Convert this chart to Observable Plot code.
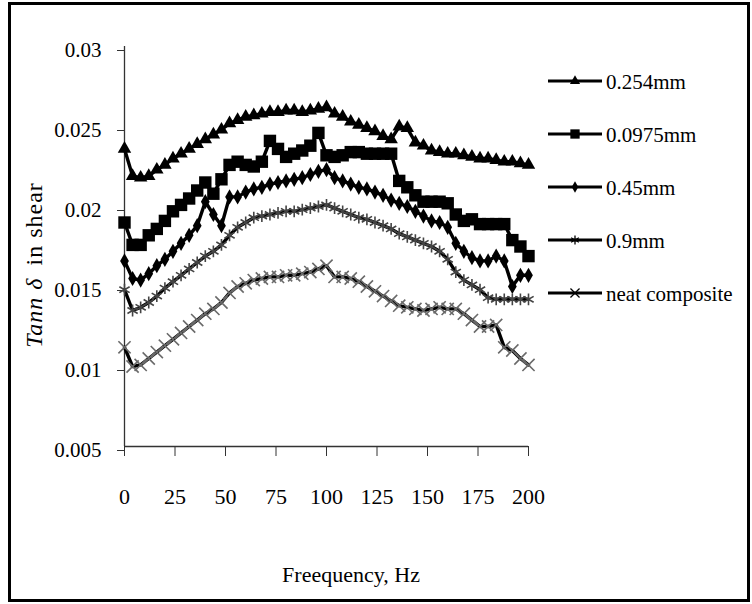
<!DOCTYPE html>
<html><head><meta charset="utf-8">
<script src="https://cdn.jsdelivr.net/npm/d3@7"></script>
<script src="https://cdn.jsdelivr.net/npm/@observablehq/plot@0.6"></script>
<style>
body{margin:0;background:#fff;}
#chart{width:752px;height:604px;}
svg text{font-family:"Liberation Serif","Tinos","DejaVu Serif",serif !important;}
</style></head><body><div id="chart"></div>
<script>
// ---- data ----
const freq = [0,4,8,12,16,20,24,28,32,36,40,44,48,52,56,60,64,68,72,76,80,84,88,92,96,100,104,108,112,116,120,124,128,132,136,140,144,148,152,156,160,164,168,172,176,180,184,188,192,196,200];
const s0254 = [0.0236,0.0219,0.0218,0.0219,0.0223,0.0226,0.0230,0.0233,0.0236,0.0239,0.0242,0.0245,0.0248,
  0.0252,0.0254,0.0256,0.0257,0.0258,0.0259,0.0259,0.0260,0.0260,0.0259,0.0260,0.0261,0.0262,
  0.0258,0.0256,0.0253,0.0251,0.0249,0.0247,0.0244,0.0242,0.0250,0.0249,0.0240,0.0238,
  0.0235,0.0234,0.0233,0.0233,0.0232,0.0231,0.0230,0.0230,0.0229,0.0228,0.0228,0.0227,0.0226];
const s0975 = [0.0190,0.0176,0.0176,0.0182,0.0186,0.0191,0.0197,0.0201,0.0205,0.0210,0.0215,0.0208,0.0217,
  0.0226,0.0228,0.0226,0.0225,0.0228,0.0241,0.0236,0.0231,0.0233,0.0235,0.0238,0.0246,0.0232,
  0.0231,0.0232,0.0234,0.0234,0.0233,0.0233,0.0233,0.0233,0.0216,0.0212,0.0207,0.0203,
  0.0203,0.0203,0.0202,0.0195,0.0191,0.0192,0.0189,0.0189,0.0189,0.0189,0.0179,0.0175,0.0169];
const s045 = [0.0166,0.0155,0.0154,0.0158,0.0163,0.0167,0.0172,0.0177,0.0182,0.0188,0.0203,0.0195,0.0188,
  0.0206,0.0206,0.0209,0.0211,0.0212,0.0214,0.0215,0.0216,0.0217,0.0218,0.0220,0.0222,0.0223,
  0.0218,0.0216,0.0214,0.0212,0.0211,0.0209,0.0207,0.0204,0.0202,0.0200,0.0197,0.0194,
  0.0191,0.0190,0.0187,0.0177,0.0172,0.0168,0.0166,0.0166,0.0169,0.0166,0.0150,0.0157,0.0157];
const s09 = [0.0148,0.0135,0.0137,0.0140,0.0144,0.0149,0.0153,0.0157,0.0161,0.0165,0.0169,0.0172,0.0176,
  0.0182,0.0187,0.0190,0.0193,0.0194,0.0195,0.0196,0.0197,0.0197,0.0198,0.0199,0.0200,0.0201,
  0.0199,0.0197,0.0195,0.0193,0.0192,0.0190,0.0188,0.0186,0.0183,0.0181,0.0179,0.0177,
  0.0175,0.0172,0.0167,0.0159,0.0154,0.0151,0.0148,0.0143,0.0142,0.0142,0.0142,0.0142,0.0142];
const sNeat = [0.0112,0.0100,0.0101,0.0105,0.0109,0.0113,0.0117,0.0121,0.0125,0.0129,0.0133,0.0136,0.0140,
  0.0146,0.0150,0.0152,0.0154,0.0155,0.0156,0.0156,0.0157,0.0157,0.0158,0.0159,0.0161,0.0163,
  0.0156,0.0156,0.0155,0.0153,0.0150,0.0147,0.0144,0.0141,0.0138,0.0137,0.0136,0.0135,
  0.0136,0.0137,0.0136,0.0136,0.0133,0.0129,0.0125,0.0125,0.0126,0.0112,0.0110,0.0105,0.0101];
const seriesNames = ["0.254mm","0.0975mm","0.45mm","0.9mm","neat composite"];
const xTicks = [0,25,50,75,100,125,150,175,200];
const yTicks = [0.005,0.01,0.015,0.02,0.025,0.03];
const yTickLabels = ["0.005","0.01","0.015","0.02","0.025","0.03"];
const xTitle = "Freequency, Hz";
const yTitleItalic = "Tann \u03b4";
const yTitleRest = "in shear";

// ---- styles ----
const FONT = '"Liberation Serif","Tinos","DejaVu Serif",serif';
const seriesValues = [s0254, s0975, s045, s09, sNeat];
const symbolNames = ["triangle","square","diamond","asterisk","times"];
const d3Symbols = [d3.symbolTriangle, d3.symbolSquare, d3.symbolDiamond, d3.symbolAsterisk, d3.symbolTimes];
const markerStyle = [
  {r:5.0, fill:"#000", stroke:"none", strokeWidth:0},
  {r:7.0, fill:"#000", stroke:"none", strokeWidth:0},
  {r:4.6, fill:"#000", stroke:"none", strokeWidth:0},
  {r:5.6, fill:"none", stroke:"#444", strokeWidth:1.6},
  {r:5.6, fill:"none", stroke:"#6a6a6a", strokeWidth:1.6}
];

const data = seriesNames.flatMap((name,i)=>freq.map((f,j)=>({name, f, v: seriesValues[i][j]})));

const marks = [
  Plot.ruleX([0], {stroke:"#333", strokeWidth:1.3}),
  Plot.ruleY([0.005], {stroke:"#333", strokeWidth:1.3}),
  Plot.axisX({ticks:xTicks, tickSize:10, tickPadding:32, label:null, stroke:"#333", fontSize:22, letterSpacing:"1.5px"}),
  Plot.axisY({ticks:yTicks, tickFormat:(d)=>yTickLabels[yTicks.findIndex(t=>Math.abs(t-d)<1e-9)], tickSize:7, tickPadding:16, label:null, stroke:"#333", fontSize:21, dy:4})
];
seriesNames.forEach((name,i)=>{
  const rows = data.filter(d=>d.name===name);
  marks.push(Plot.line(rows,{x:"f",y:"v",stroke:"#000",strokeWidth:3.4}));
});
seriesNames.forEach((name,i)=>{
  const rows = data.filter(d=>d.name===name);
  const st = markerStyle[i];
  marks.push(Plot.dot(rows,{x:"f",y:"v",symbol:symbolNames[i],r:st.r,fill:st.fill,stroke:st.stroke,strokeWidth:st.strokeWidth}));
});

const chart = Plot.plot({
  width:752, height:604,
  marginLeft:124, marginRight:224, marginTop:46, marginBottom:158,
  style:{fontFamily:FONT, fontSize:"21px", color:"#000", background:"#fff", overflow:"visible"},
  x:{domain:[0,200]},
  y:{domain:[0.005,0.03]},
  marks
});
document.getElementById("chart").appendChild(chart);

const svg = d3.select(chart);
// frame
svg.append("rect").attr("x",9.5).attr("y",3.5).attr("width",739).attr("height",597)
  .attr("fill","none").attr("stroke","#000").attr("stroke-width",3);
// axis titles
svg.append("text").attr("x",351).attr("y",582).attr("text-anchor","middle")
  .attr("font-family",FONT).attr("font-size",22).attr("fill","#000").text(xTitle);
const yt = svg.append("text").attr("transform","translate(42,265) rotate(-90)")
  .attr("text-anchor","middle").attr("font-family",FONT).attr("font-size",24).attr("fill","#000");
yt.append("tspan").attr("font-style","italic").attr("letter-spacing","1px").text(yTitleItalic);
yt.append("tspan").attr("dx",12).attr("letter-spacing","1px").text(yTitleRest);
// legend
seriesNames.forEach((name,i)=>{
  const cy = 81 + 53*i;
  const g = svg.append("g");
  g.append("line").attr("x1",548).attr("x2",602).attr("y1",cy).attr("y2",cy).attr("stroke","#000").attr("stroke-width",3);
  const st = markerStyle[i];
  const size = Math.PI*Math.pow(st.r*0.75,2);
  g.append("path").attr("transform",`translate(575,${cy})`).attr("d",d3.symbol(d3Symbols[i],size)())
    .attr("fill", st.fill==="none"?"none":"#000").attr("stroke", st.fill==="none"?"#000":"none").attr("stroke-width",1.3);
  g.append("text").attr("x",606).attr("y",cy+8).attr("text-anchor","start")
    .attr("font-family",FONT).attr("font-size",21).attr("fill","#000").text(name);
});
</script></body></html>
